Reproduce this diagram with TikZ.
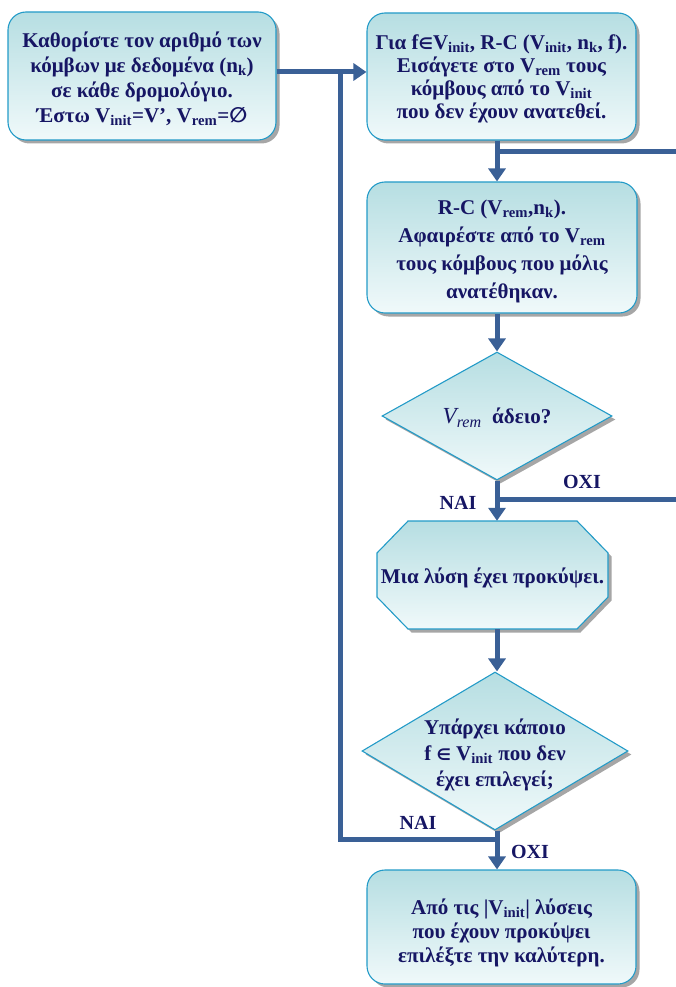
\documentclass[tikz,border=0pt]{standalone}
\usepackage{fontspec}
\setmainfont{Liberation Serif}
\newfontfamily\symfont{DejaVu Sans}
\usetikzlibrary{shapes.geometric,shadows,arrows.meta}
\definecolor{txtnavy}{RGB}{22,22,100}
\definecolor{boxtop}{RGB}{182,222,226}
\definecolor{boxbot}{RGB}{240,249,250}
\definecolor{boxedge}{RGB}{35,155,200}
\definecolor{flowline}{RGB}{58,96,150}
\newcommand\lo[1]{\textsubscript{#1}}
\newcommand\elem{{\symfont\bfseries\fontsize{16}{16}\selectfont ∈}}
\newcommand\none{{\symfont ∅}}

\begin{document}
\begin{tikzpicture}[x=1pt,y=-1pt,
  panel/.style={draw=boxedge, line width=1.1pt, top color=boxtop, bottom color=boxbot,
    drop shadow={shadow xshift=3.5pt, shadow yshift=-3.5pt, fill=black, opacity=.35}},
  roundbox/.style={panel, rectangle, rounded corners=18pt, inner sep=0pt},
  decision/.style={panel, diamond, inner sep=0pt},
  txt/.style={text=txtnavy, align=center, inner sep=0pt,
    font=\fontsize{21}{#1}\selectfont\bfseries},
  txt/.default=25,
  answer/.style={text=txtnavy, font=\fontsize{20}{24}\selectfont\bfseries},
  flow/.style={draw=flowline, line width=5pt},
  flowarrow/.style={flow, -{Triangle[length=13pt,width=17pt]}}
]
\useasboundingbox (0,0) rectangle (675,987);

% column of the main flow and the joints of the loops
\coordinate (col) at (497,0);
\coordinate (j1) at (340,72);
\coordinate (j2) at (340,839);
\coordinate (j3) at (690,499);
\coordinate (j4) at (690,152);
\coordinate (j5) at (497,499);

% process boxes
\node[roundbox, minimum width=268pt, minimum height=128pt] (b1) at (142,76) {};
\node[txt] (t1) at (142,79) {Καθορίστε τον αριθμό των\\κόμβων με δεδομένα (n\lo{k})\\σε κάθε δρομολόγιο.\\Έστω V\lo{init}=V’, V\lo{rem}=\none};

\node[roundbox, minimum width=269pt, minimum height=127pt] (b2) at (501.5,76.5) {};
\node[txt=23] (t2) at (501.5,79) {Για f\elem V\lo{init}, R-C (V\lo{init}, n\lo{k}, f).\\Εισάγετε στο V\lo{rem} τους\\κόμβους από το V\lo{init}\\που δεν έχουν ανατεθεί.};

\node[roundbox, minimum width=270pt, minimum height=131pt] (b3) at (502,247.5) {};
\node[txt=28] (t3) at (502,251) {R-C (V\lo{rem},n\lo{k}).\\Αφαιρέστε από το V\lo{rem}\\τους κόμβους που μόλις\\ανατέθηκαν.};

% first decision
\node[decision, minimum width=230pt, minimum height=128pt] (d1) at (497,416) {};
\node[txt] (t4) at (497,418) {{\mdseries\itshape\fontsize{23}{25}\selectfont V\lo{rem}}\ \ άδειο?};

% intermediate result: octagon drawn as a path, with a node for its anchors
\path[panel] (408,521) -- (577,521) -- (608,553) -- (608,597) -- (577,629)
  -- (408,629) -- (377,597) -- (377,553) -- cycle;
\node[rectangle, minimum width=231pt, minimum height=108pt, inner sep=0pt] (o1) at (492.5,575) {};
\node[txt] (t5) at (492.5,578) {Μια λύση έχει προκύψει.};

% second decision
\node[decision, minimum width=266pt, minimum height=158pt] (d2) at (495,751) {};
\node[txt=26] (t6) at (495,755) {Υπάρχει κάποιο\\f \elem\ V\lo{init} που δεν\\έχει επιλεγεί;};

% final box
\node[roundbox, minimum width=269pt, minimum height=114pt] (b4) at (501.5,927) {};
\node[txt=24] (t7) at (501.5,933) {Από τις |V\lo{init}| λύσεις\\που έχουν προκύψει\\επιλέξτε την καλύτερη.};

% connectors
\draw[flowarrow] (b1.east |- j1) -- (b2.west |- j1);
\draw[flow] (d2.south |- j2) -- (j2) -- (j1);
\draw[flowarrow] (b2.south -| col) -- (b3.north -| col);
\draw[flowarrow] (b3.south -| col) -- (d1.north -| col);
\draw[flowarrow] (d1.south -| col) -- (o1.north -| col);
\draw[flow] (j5) -- (j3) -- (j4) -- (col |- j4);
\draw[flowarrow] (o1.south -| col) -- (d2.north -| col);
\draw[flowarrow] (d2.south -| col) -- (b4.north -| col);

% branch labels
\node[answer] (l1) at (458,503) {NAI};
\node[answer] (l2) at (582,482) {OXI};
\node[answer] (l3) at (418,823) {NAI};
\node[answer] (l4) at (530,852) {OXI};
\end{tikzpicture}
\end{document}
